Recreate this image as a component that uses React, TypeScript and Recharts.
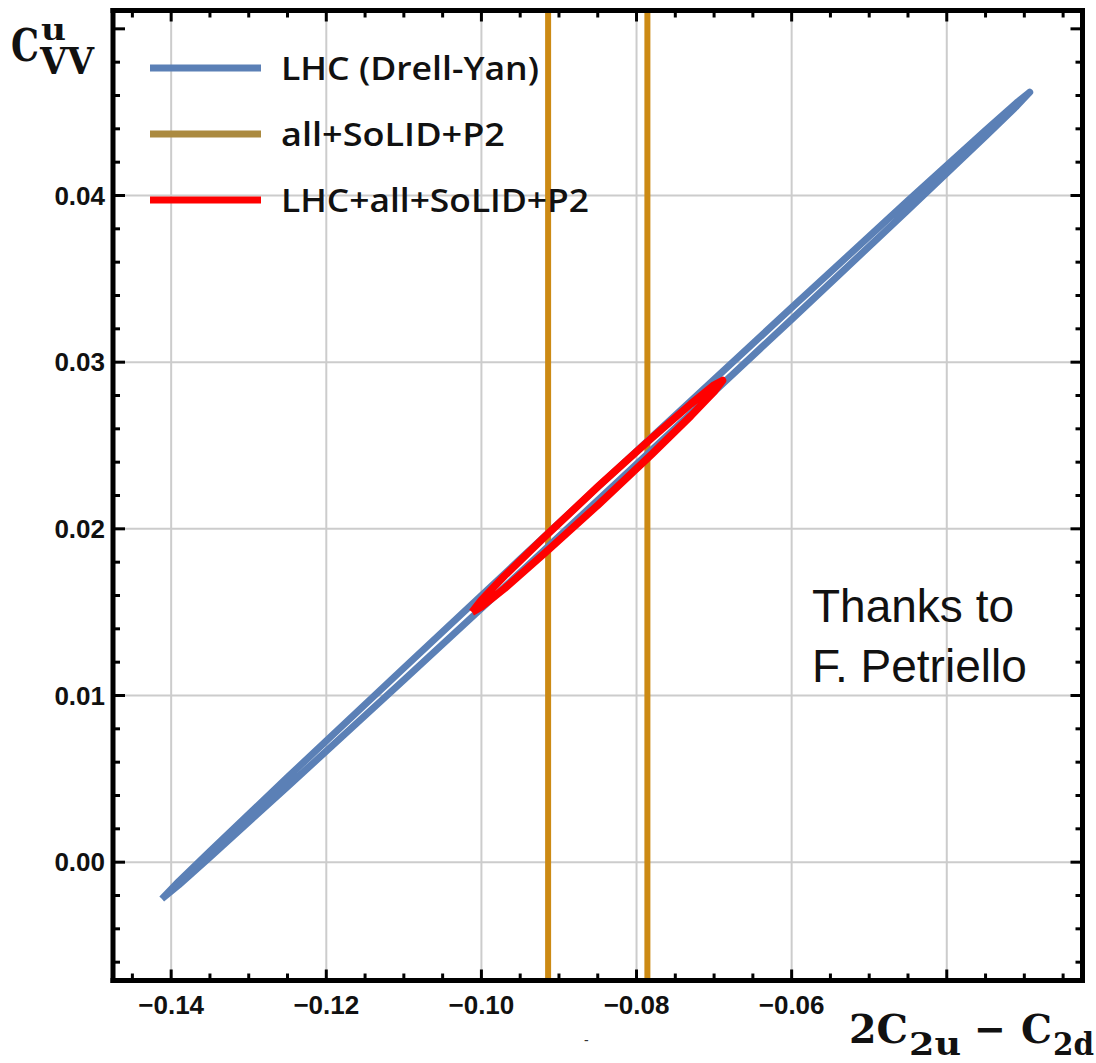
import React from "react";
import {
  ComposedChart,
  Scatter,
  XAxis,
  YAxis,
  CartesianGrid,
  ReferenceLine,
  Legend,
} from "recharts";

// outline of the LHC (Drell-Yan) contour
const lhcContour = [
  { x: -0.1412, y: -0.0022 },
  { x: -0.139, y: -0.00114 },
  { x: -0.135, y: 0.00066 },
  { x: -0.125, y: 0.00509 },
  { x: -0.11, y: 0.01165 },
  { x: -0.095, y: 0.01818 },
  { x: -0.085, y: 0.02251 },
  { x: -0.075, y: 0.02681 },
  { x: -0.06, y: 0.03327 },
  { x: -0.045, y: 0.03969 },
  { x: -0.035, y: 0.04391 },
  { x: -0.031, y: 0.04556 },
  { x: -0.0293, y: 0.0462 },
  { x: -0.031, y: 0.04536 },
  { x: -0.035, y: 0.04355 },
  { x: -0.045, y: 0.03913 },
  { x: -0.06, y: 0.03257 },
  { x: -0.075, y: 0.02605 },
  { x: -0.085, y: 0.02171 },
  { x: -0.095, y: 0.01738 },
  { x: -0.11, y: 0.01093 },
  { x: -0.125, y: 0.00453 },
  { x: -0.135, y: 0.0003 },
  { x: -0.139, y: -0.00136 },
  { x: -0.1412, y: -0.0022 },
];

// outline of the LHC+all+SoLID+P2 contour
const combinedContour = [
  { x: -0.1012, y: 0.015 },
  { x: -0.1, y: 0.01572 },
  { x: -0.097, y: 0.01719 },
  { x: -0.092, y: 0.01945 },
  { x: -0.085, y: 0.02252 },
  { x: -0.078, y: 0.02547 },
  { x: -0.073, y: 0.02749 },
  { x: -0.07, y: 0.02863 },
  { x: -0.0689, y: 0.0289 },
  { x: -0.07, y: 0.02823 },
  { x: -0.073, y: 0.02677 },
  { x: -0.078, y: 0.02449 },
  { x: -0.085, y: 0.02142 },
  { x: -0.092, y: 0.01847 },
  { x: -0.097, y: 0.01643 },
  { x: -0.1, y: 0.01532 },
  { x: -0.1012, y: 0.015 },
];

// all+SoLID+P2 band edges
const solidBounds = [-0.0914, -0.0786];

const xMajorTicks = [-0.14, -0.12, -0.1, -0.08, -0.06, -0.04];
const xTickLabels = ["\u22120.14", "\u22120.12", "\u22120.10", "\u22120.08", "\u22120.06", ""];
const xMinorTicks = [
  -0.145, -0.135, -0.13, -0.125, -0.115, -0.11, -0.105, -0.095, -0.09, -0.085,
  -0.075, -0.07, -0.065, -0.055, -0.05, -0.045, -0.035, -0.03, -0.025,
];

const yMajorTicks = [0, 0.01, 0.02, 0.03, 0.04, 0.05];
const yTickLabels = ["0.00", "0.01", "0.02", "0.03", "0.04", ""];
const yMinorTicks = [
  -0.006, -0.004, -0.002, 0.002, 0.004, 0.006, 0.008, 0.012, 0.014, 0.016, 0.018,
  0.022, 0.024, 0.026, 0.028, 0.032, 0.034, 0.036, 0.038, 0.042, 0.044, 0.046, 0.048,
];

const legendItems = [
  { name: "LHC (Drell-Yan)", color: "#5b80b6", width: 258 },
  { name: "all+SoLID+P2", color: "#ab8a40", width: 224 },
  { name: "LHC+all+SoLID+P2", color: "#ff0000", width: 308 },
];

const BLUE = "#5b80b6";
const ORANGE = "#cc8a14";
const RED = "#ff0000";
const GRID = "#cccccc";

const xTicks = [...xMajorTicks, ...xMinorTicks];
const yTicks = [...yMajorTicks, ...yMinorTicks];

const tickFont = {
  fontFamily: "'Liberation Sans', Arial, sans-serif",
  fontWeight: 700,
  fontSize: 26,
  fill: "#111",
};

const majorIndex = (list: number[], v: number) =>
  list.findIndex((t) => Math.abs(t - v) < 1e-9);

function BottomTick(props: any) {
  const { x, y, payload } = props;
  const i = majorIndex(xMajorTicks, payload.value);
  return (
    <g>
      <line x1={x} x2={x} y1={y} y2={y - (i >= 0 ? 11 : 7)} stroke="#000" strokeWidth={3} />
      {i >= 0 && xTickLabels[i] ? (
        <text x={x} y={y + 33} textAnchor="middle" {...tickFont}>
          {xTickLabels[i]}
        </text>
      ) : null}
    </g>
  );
}

function TopTick(props: any) {
  const { x, y, payload } = props;
  const i = majorIndex(xMajorTicks, payload.value);
  return <line x1={x} x2={x} y1={y} y2={y + (i >= 0 ? 11 : 7)} stroke="#000" strokeWidth={3} />;
}

function LeftTick(props: any) {
  const { x, y, payload } = props;
  const i = majorIndex(yMajorTicks, payload.value);
  return (
    <g>
      <line x1={x} x2={x + (i >= 0 ? 12 : 7)} y1={y} y2={y} stroke="#000" strokeWidth={3} />
      {i >= 0 && yTickLabels[i] ? (
        <text x={x - 8} y={y + 9} textAnchor="end" {...tickFont}>
          {yTickLabels[i]}
        </text>
      ) : null}
    </g>
  );
}

function RightTick(props: any) {
  const { x, y, payload } = props;
  const i = majorIndex(yMajorTicks, payload.value);
  return <line x1={x} x2={x - (i >= 0 ? 12 : 7)} y1={y} y2={y} stroke="#000" strokeWidth={3} />;
}

function LegendBox() {
  return (
    <svg width={620} height={240}>
      {legendItems.map((item, i) => {
        const cy = 68 + i * 66;
        return (
          <g key={item.name}>
            <line x1={150} x2={261} y1={cy} y2={cy} stroke={item.color} strokeWidth={7} />
            <text
              x={281}
              y={cy + 12}
              textLength={item.width}
              lengthAdjust="spacingAndGlyphs"
              fontFamily="'Open Sans', sans-serif"
              fontWeight={600}
              fontSize={32}
              fill="#111"
            >
              {item.name}
            </text>
          </g>
        );
      })}
    </svg>
  );
}

const axisLine = { stroke: "#000", strokeWidth: 5, strokeLinecap: "square" as const };
const serif = "'DejaVu Serif', 'Liberation Serif', serif";

export default function App() {
  return (
    <div style={{ position: "absolute", left: 0, top: 0, width: 1096, height: 1063, background: "#fff" }}>
      <ComposedChart width={1096} height={1063} margin={{ top: 0, right: 0, bottom: 0, left: 0 }}>
        <CartesianGrid
          xAxisId="bottom"
          yAxisId="left"
          stroke={GRID}
          strokeWidth={2}
          verticalValues={xMajorTicks}
          horizontalValues={yMajorTicks.slice(0, 5)}
        />
        <XAxis
          xAxisId="bottom"
          type="number"
          dataKey="x"
          domain={[-0.1475, -0.0225]}
          allowDataOverflow
          ticks={xTicks}
          interval={0}
          height={82.5}
          tickSize={0}
          tickMargin={0}
          axisLine={axisLine}
          tick={(p: any) => <BottomTick {...p} />}
        />
        <XAxis
          xAxisId="top"
          orientation="top"
          type="number"
          dataKey="x"
          domain={[-0.1475, -0.0225]}
          allowDataOverflow
          ticks={xTicks}
          interval={0}
          height={10.5}
          tickSize={0}
          tickMargin={0}
          axisLine={axisLine}
          tick={(p: any) => <TopTick {...p} />}
        />
        <YAxis
          yAxisId="left"
          type="number"
          dataKey="y"
          domain={[-0.0071, 0.0511]}
          allowDataOverflow
          ticks={yTicks}
          interval={0}
          width={113}
          tickSize={0}
          tickMargin={0}
          axisLine={axisLine}
          tick={(p: any) => <LeftTick {...p} />}
        />
        <YAxis
          yAxisId="right"
          orientation="right"
          type="number"
          dataKey="y"
          domain={[-0.0071, 0.0511]}
          allowDataOverflow
          ticks={yTicks}
          interval={0}
          width={13.5}
          tickSize={0}
          tickMargin={0}
          axisLine={axisLine}
          tick={(p: any) => <RightTick {...p} />}
        />
        <Scatter
          name="LHC (Drell-Yan)"
          data={lhcContour}
          xAxisId="bottom"
          yAxisId="left"
          fill={BLUE}
          lineType="joint"
          line={{ stroke: BLUE, strokeWidth: 7, strokeLinejoin: "round" }}
          shape={() => <g />}
          isAnimationActive={false}
        />
        {solidBounds.map((v) => (
          <ReferenceLine
            key={v}
            x={v}
            xAxisId="bottom"
            yAxisId="left"
            stroke={ORANGE}
            strokeWidth={6}
          />
        ))}
        <Scatter
          name="LHC+all+SoLID+P2"
          data={combinedContour}
          xAxisId="bottom"
          yAxisId="left"
          fill={RED}
          lineType="joint"
          line={{ stroke: RED, strokeWidth: 7.5, strokeLinejoin: "round" }}
          shape={() => <g />}
          isAnimationActive={false}
        />
        <Legend
          layout="vertical"
          align="center"
          verticalAlign="middle"
          wrapperStyle={{ left: 0, top: 0, width: 620, height: 240 }}
          content={() => <LegendBox />}
        />
      </ComposedChart>

      <svg
        width={1096}
        height={1063}
        style={{ position: "absolute", left: 0, top: 0, pointerEvents: "none" }}
      >
        {/* y-axis title */}
        <g fontFamily={serif} fontWeight={700} fill="#111">
          <text x={11} y={61} fontSize={44} textLength={28} lengthAdjust="spacingAndGlyphs">C</text>
          <text x={41} y={40} fontSize={30} textLength={25} lengthAdjust="spacingAndGlyphs">u</text>
          <text x={40} y={74} fontSize={38} textLength={54} lengthAdjust="spacingAndGlyphs">VV</text>
        </g>
        {/* x-axis title */}
        <g fontFamily={serif} fontWeight={700} fill="#111">
          <text x={849} y={1043} fontSize={40} textLength={59} lengthAdjust="spacingAndGlyphs">2C</text>
          <text x={909} y={1055} fontSize={31} textLength={52} lengthAdjust="spacingAndGlyphs">2u</text>
          <text x={974} y={1043} fontSize={40} textLength={32} lengthAdjust="spacingAndGlyphs">{"\u2212"}</text>
          <text x={1021} y={1043} fontSize={40} textLength={31} lengthAdjust="spacingAndGlyphs">C</text>
          <text x={1053} y={1055} fontSize={31} textLength={41} lengthAdjust="spacingAndGlyphs">2d</text>
        </g>
        <text x={584} y={1045} fontSize={14} fontFamily="'Liberation Sans', Arial, sans-serif" fill="#333">-</text>
        {/* credit */}
        <g fontFamily="'Liberation Sans', Arial, sans-serif" fontSize={46} fill="#111">
          <text x={812} y={622}>Thanks to</text>
          <text x={812} y={682}>F. Petriello</text>
        </g>
      </svg>
    </div>
  );
}
